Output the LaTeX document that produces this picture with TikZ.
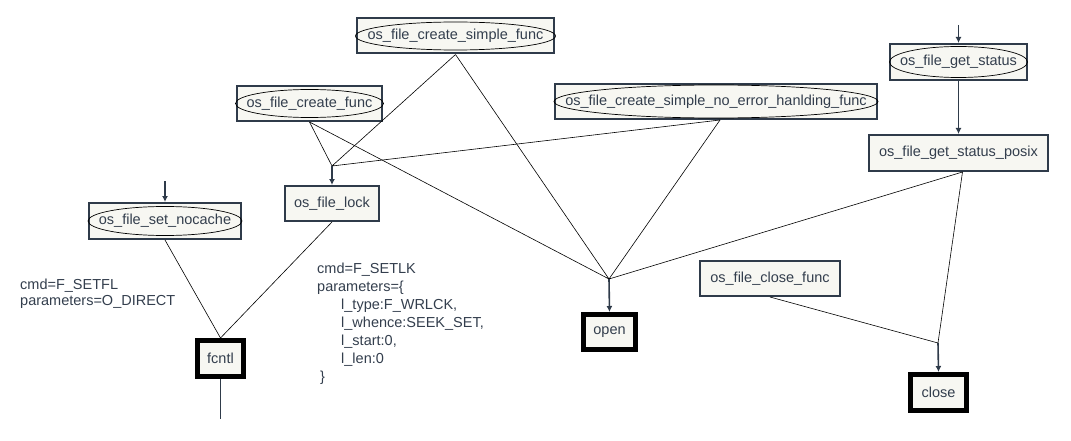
\documentclass[tikz,border=0pt]{standalone}
\usepackage{fontspec}
\setmainfont{Liberation Sans}
\usetikzlibrary{arrows.meta}
\definecolor{edge}{HTML}{2F3B4A}
\definecolor{boxfill}{HTML}{F7F7F2}
\definecolor{txt}{HTML}{333E4D}
\tikzset{
  fbox/.style={draw=edge, line width=2pt, fill=boxfill, text=txt, inner sep=0pt, minimum height=35},
  endbox/.style={draw=black, line width=5pt, fill=boxfill, text=txt, inner sep=0pt, minimum height=35},
  oval/.style={draw=black, line width=0.7pt},
  wire/.style={draw=black, line width=0.6pt},
  arr/.style={draw=edge, line width=1.6pt, -{Latex[length=6pt,width=6pt]}},
  note/.style={text=txt, align=left, anchor=north west, inner sep=0pt}
}
\begin{document}
\begin{tikzpicture}[x=1pt, y=-1pt, font=\fontsize{14.5}{18}\selectfont]
\useasboundingbox (0,0) rectangle (1071,441);
% boxes
\node[fbox, minimum width=197] (sf) at (455.5,36) {};
\draw[oval] (sf.center) ellipse (100 and 14);
\node[text=txt] at (sf.center) {os\_file\_create\_simple\_func};
\node[fbox, minimum width=145] (cf) at (309.5,103.5) {};
\draw[oval] (cf.center) ellipse (74 and 14);
\node[text=txt] at (cf.center) {os\_file\_create\_func};
\node[fbox, minimum width=322] (ne) at (716,101.5) {};
\draw[oval] (ne.center) ellipse (162 and 16.5);
\node[text=txt] at (ne.center) {os\_file\_create\_simple\_no\_error\_hanlding\_func};
\node[fbox, minimum width=137, minimum height=36] (gs) at (958.5,62) {};
\draw[oval] (gs.center) ellipse (69 and 15.5);
\node[text=txt] at (gs.center) {os\_file\_get\_status};
\node[fbox, minimum width=179, minimum height=36] (gp) at (958.5,153) {os\_file\_get\_status\_posix};
\node[fbox, minimum width=152, minimum height=36] (nc) at (165,221) {};
\draw[oval] (nc.center) ellipse (77 and 14.5);
\node[text=txt] at (nc.center) {os\_file\_set\_nocache};
\node[fbox, minimum width=94] (lk) at (332,203.5) {os\_file\_lock};
\node[fbox, minimum width=140] (cl) at (770,278.5) {os\_file\_close\_func};
\node[endbox, minimum width=46, minimum height=36] (fc) at (220.5,358.5) {fcntl};
\node[endbox, minimum width=52] (op) at (609.5,332) {open};
\node[endbox, minimum width=56, minimum height=36] (cs) at (938.5,392.5) {close};
% notes
\node[note] (setfl) at (20,279) {cmd=F\_SETFL\\[-2pt]parameters=O\_DIRECT};
\node[note] (setlk) at (317,263) {cmd=F\_SETLK\\
parameters=\{\\
\hspace*{24pt}l\_type:F\_WRLCK,\\
\hspace*{24pt}l\_whence:SEEK\_SET,\\
\hspace*{24pt}l\_start:0,\\
\hspace*{24pt}l\_len:0\\
\hspace*{3pt}\}};
% junctions and free ends
\coordinate (j1) at (332,166);
\coordinate (j2) at (609,279);
\coordinate (j3) at (938,343);
\coordinate (gsin) at (958.5,25);
\coordinate (ncin) at (165,181);
\coordinate (fcout) at (220.5,419);
% connectors
\draw[wire] (cf.south) -- (j1) (sf.south) -- (j1) ([xshift=4]ne.south) -- (j1);
\draw[wire] (cf.south) -- (j2) (sf.south) -- (j2) ([xshift=4]ne.south) -- (j2) ([xshift=4]gp.south) -- (j2);
\draw[wire] ([xshift=4]gp.south) -- (j3) (cl.south) -- (j3);
\draw[wire] (nc.south) -- (fc.north) (lk.south) -- (fc.north);
\draw[arr] (j1) -- (lk.north);
\draw[arr] (j2) -- (op.north);
\draw[arr] (j3) -- (cs.north);
\draw[arr] (gsin) -- (gs.north);
\draw[arr] (gs.south) -- (gp.north);
\draw[arr] (ncin) -- (nc.north);
\draw[draw=edge, line width=1.6pt] (fc.south) -- (fcout);
\end{tikzpicture}
\end{document}
